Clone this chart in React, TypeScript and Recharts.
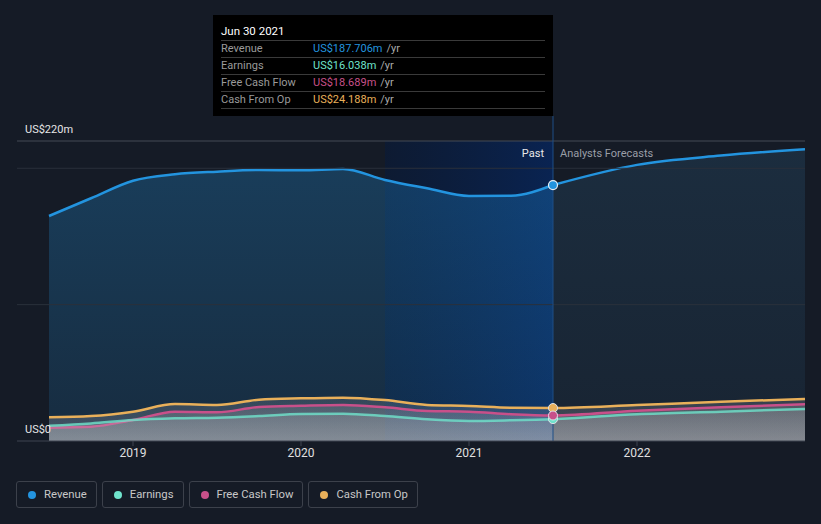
import React from 'react';
import {
  ComposedChart, Area, XAxis, YAxis, ReferenceLine, ReferenceArea, ReferenceDot,
} from 'recharts';

const years = [2018.5, 2018.75, 2019, 2019.25, 2019.5, 2019.75, 2020, 2020.25, 2020.5, 2020.75, 2021, 2021.25, 2021.5, 2022, 2022.5, 2023];
const revenuePast = [165, 178, 190.9, 195.6, 197.5, 198.7, 198.5, 199.5, 191.4, 185.3, 179.7, 179.9, 187.706];
const revenueForecast = [187.706, 202.5, 209.3, 214];
const earnings = [11.2, 12.9, 15.4, 16.6, 17.1, 18.3, 19.8, 20, 18.3, 15.9, 14.7, 15.2, 16.038, 19.6, 21.5, 23.5];
const freeCashFlow = [9.8, 10.5, 15.4, 21.5, 21, 24.9, 25.8, 26.4, 24.7, 22, 21.5, 19.6, 18.689, 22.2, 24.7, 26.9];
const cashFromOp = [17.4, 18.3, 21.5, 27.1, 26.4, 30.3, 31.3, 31.8, 30, 26.4, 25.7, 24.4, 24.188, 26.4, 28.8, 30.8];
const xTicks = [2019, 2020, 2021, 2022];
const gridValues = [100, 200];
const yLabelTop = 220;
const pastIndex = 12;
const highlightStart = 2020.5;
const tooltipTitle = 'Jun 30 2021';

const C = {
  bg: '#151b26',
  revenue: '#2394df',
  earnings: '#6fe3cc',
  fcf: '#c8508a',
  cfo: '#e9b05a',
};

const series = [
  { key: 'revenue', name: 'Revenue', color: C.revenue, values: revenuePast },
  { key: 'earnings', name: 'Earnings', color: C.earnings, values: earnings },
  { key: 'fcf', name: 'Free Cash Flow', color: C.fcf, values: freeCashFlow },
  { key: 'cfo', name: 'Cash From Op', color: C.cfo, values: cashFromOp },
];

const data = years.map((t, i) => ({
  t,
  revPast: i <= pastIndex ? revenuePast[i] : null,
  revFc: i >= pastIndex ? revenueForecast[i - pastIndex] : null,
  earnings: earnings[i],
  fcf: freeCashFlow[i],
  cfo: cashFromOp[i],
}));

const FONT = 'Roboto, "Open Sans", "DejaVu Sans", sans-serif';

const YLabel = (props: any) => {
  const vb = props.viewBox || {};
  return (
    <text x={(vb.x ?? 17) + 8} y={(vb.y ?? 0) - 8} fill="#e6e6e6" fontSize={11} fontFamily={FONT}>
      {props.text}
    </text>
  );
};

const DividerLabel = (props: any) => {
  const vb = props.viewBox || {};
  const x = vb.x ?? 553;
  const y = (vb.y ?? 141) + 16;
  return (
    <g fontFamily={FONT} fontSize={11}>
      <text x={x - 9} y={y} textAnchor="end" fill="#e8e8e8">Past</text>
      <text x={x + 7} y={y} textAnchor="start" fill="#9a9ea6">Analysts Forecasts</text>
    </g>
  );
};

const fmt = (v: number) => `US$${v.toFixed(3)}m`;

export default function App() {
  const rows = series.map((s) => ({ ...s, v: s.values[pastIndex] }));
  return (
    <div style={{ position: 'absolute', left: 0, top: 0, width: 821, height: 524, background: C.bg, fontFamily: FONT, overflow: 'hidden' }}>
      <ComposedChart width={821} height={470} data={data} margin={{ top: 141, right: 16, bottom: 0, left: 17 }}>
        <defs>
          <linearGradient id="revPastFill" x1="0" y1="0" x2="0" y2="1">
            <stop offset="0%" stopColor={C.revenue} stopOpacity={0.28} />
            <stop offset="100%" stopColor={C.revenue} stopOpacity={0.14} />
          </linearGradient>
          <linearGradient id="revFcFill" x1="0" y1="0" x2="0" y2="1">
            <stop offset="0%" stopColor="#3d8bc0" stopOpacity={0.16} />
            <stop offset="100%" stopColor="#3d8bc0" stopOpacity={0.08} />
          </linearGradient>
          <linearGradient id="hlFill" x1="0" y1="0" x2="1" y2="0">
            <stop offset="0%" stopColor="#021a44" stopOpacity={0.4} />
            <stop offset="100%" stopColor="#03286a" stopOpacity={0.65} />
          </linearGradient>
          <linearGradient id="lowFill" x1="0" y1="0" x2="0" y2="1">
            <stop offset="0%" stopColor="#c8c8cc" stopOpacity={0.16} />
            <stop offset="100%" stopColor="#c8c8cc" stopOpacity={0.27} />
          </linearGradient>
        </defs>
        <XAxis
          dataKey="t"
          type="number"
          domain={[2018.3095, 2023]}
          ticks={xTicks}
          tickFormatter={(v: number) => String(v)}
          height={29}
          stroke="#3e4450"
          tick={{ fill: '#e0e0e0', fontSize: 12, fontFamily: FONT }}
          tickSize={5}
          allowDataOverflow
        />
        <YAxis hide domain={[0, 220]} allowDataOverflow />
        <ReferenceArea x1={highlightStart} x2={years[pastIndex]} y1={0} y2={220} fill="url(#hlFill)" fillOpacity={1} stroke="none" />
        {gridValues.map((g) => (
          <ReferenceLine key={g} y={g} stroke="#2a303b" strokeWidth={1} />
        ))}
        <ReferenceLine y={yLabelTop} stroke="#444a55" strokeWidth={1} label={<YLabel text="US$220m" />} />
        <ReferenceLine y={0} stroke="none" label={<YLabel text="US$0" />} />
        <Area type="monotone" dataKey="revPast" stroke={C.revenue} strokeWidth={2.5} fill="url(#revPastFill)" fillOpacity={1} isAnimationActive={false} dot={false} activeDot={false} />
        <Area type="monotone" dataKey="revFc" stroke={C.revenue} strokeWidth={2.5} fill="url(#revFcFill)" fillOpacity={1} isAnimationActive={false} dot={false} activeDot={false} />
        <Area type="monotone" dataKey="cfo" stroke={C.cfo} strokeWidth={2.5} fill="url(#lowFill)" fillOpacity={1} isAnimationActive={false} dot={false} activeDot={false} />
        <Area type="monotone" dataKey="fcf" stroke={C.fcf} strokeWidth={2.5} fill="url(#lowFill)" fillOpacity={1} isAnimationActive={false} dot={false} activeDot={false} />
        <Area type="monotone" dataKey="earnings" stroke={C.earnings} strokeWidth={2.5} strokeOpacity={0.8} fill="url(#lowFill)" fillOpacity={1} isAnimationActive={false} dot={false} activeDot={false} />
        <ReferenceLine
          segment={[{ x: years[pastIndex], y: 0 }, { x: years[pastIndex], y: 238.3 }]}
          stroke="#1e4f86"
          strokeWidth={1}
          ifOverflow="visible"
        />
        <ReferenceLine x={years[pastIndex]} stroke="none" label={<DividerLabel />} />
        <ReferenceDot x={years[pastIndex]} y={cashFromOp[pastIndex]} r={4.5} fill={C.cfo} stroke="#dfe3e8" strokeWidth={1} />
        <ReferenceDot x={years[pastIndex]} y={earnings[pastIndex]} r={4.5} fill={C.earnings} stroke="#dfe3e8" strokeWidth={1} />
        <ReferenceDot x={years[pastIndex]} y={freeCashFlow[pastIndex]} r={4.5} fill={C.fcf} stroke="#dfe3e8" strokeWidth={1} />
        <ReferenceDot x={years[pastIndex]} y={revenuePast[pastIndex]} r={4.5} fill={C.revenue} stroke="#e8eef5" strokeWidth={1.2} />
      </ComposedChart>

      <div style={{ position: 'absolute', left: 213, top: 15, width: 340, height: 101, background: '#000', boxSizing: 'border-box', padding: '8px 8px 0 8px' }}>
        <div style={{ color: '#fff', fontSize: 11.5, height: 17, lineHeight: '17px', borderBottom: '1px solid #3a3a3a' }}>{tooltipTitle}</div>
        {rows.map((r) => (
          <div key={r.key} style={{ display: 'flex', fontSize: 11, height: 16, lineHeight: '16px', borderBottom: '1px solid #3a3a3a' }}>
            <span style={{ color: '#9a9a9a', width: 92 }}>{r.name}</span>
            <span style={{ color: r.color }}>{fmt(r.v)}</span>
            <span style={{ color: '#aaa', marginLeft: 4 }}>/yr</span>
          </div>
        ))}
      </div>

      <div style={{ position: 'absolute', left: 16, top: 481, display: 'flex', gap: 5 }}>
        {series.map((s) => (
          <div key={s.key} style={{ height: 27, boxSizing: 'border-box', border: '1px solid #3c414b', borderRadius: 3, display: 'flex', alignItems: 'center', padding: '0 9px 0 11px', color: '#c8c8c8', fontSize: 11.3, whiteSpace: 'nowrap' }}>
            <span style={{ width: 8, height: 8, borderRadius: '50%', background: s.color, marginRight: 8, display: 'inline-block', flexShrink: 0 }} />
            {s.name}
          </div>
        ))}
      </div>
    </div>
  );
}
